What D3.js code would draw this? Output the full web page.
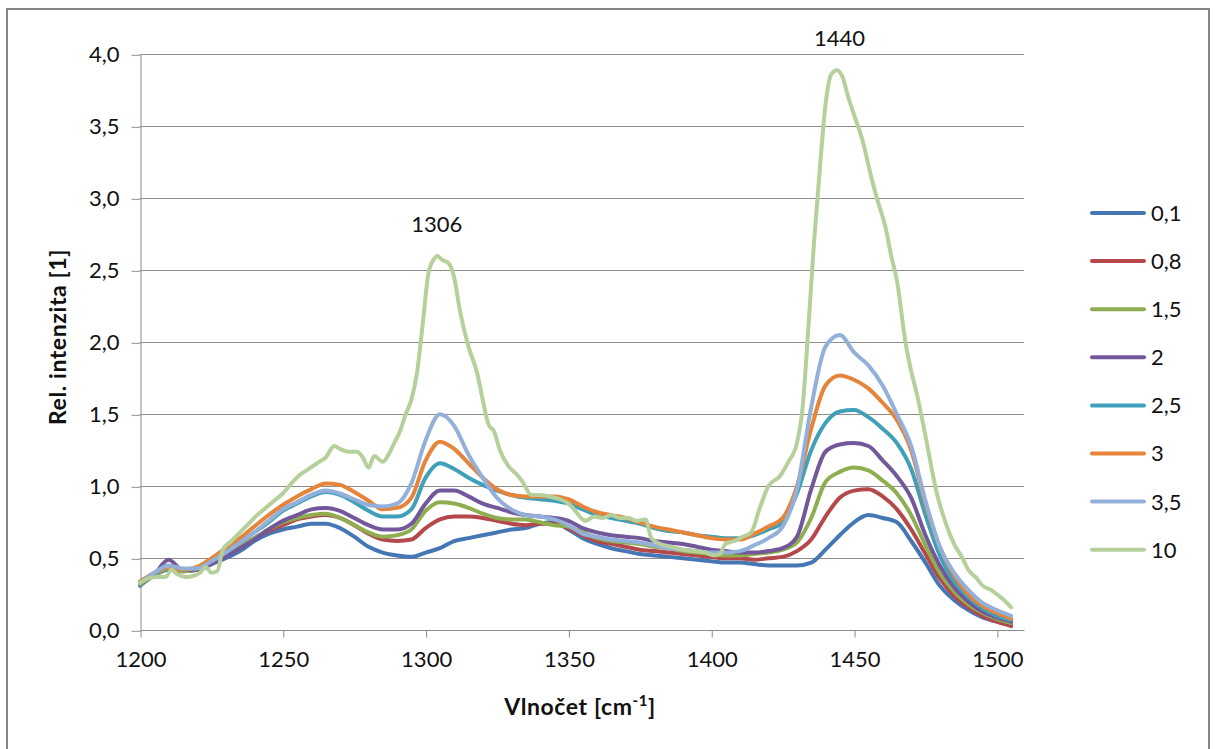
<!DOCTYPE html>
<html lang="cs">
<head>
<meta charset="UTF-8">
<script src="https://d3js.org/d3.v7.min.js"></script>
<style>
  body { margin: 0; background: #fff; }
  svg text { font-family: Lato, "Open Sans", sans-serif; fill: #111; }
</style>
</head>
<body>
<svg id="chart" width="1217" height="749"></svg>
<script>
// shared wavenumber grid for the first seven series
var wavenumber = [1200,1205,1210,1215,1220,1225,1230,1235,1240,1245,
                  1250,1255,1260,1265,1270,1275,1280,1285,1290,1295,
                  1300,1305,1310,1315,1320,1325,1330,1335,1340,1345,
                  1350,1355,1360,1365,1370,1375,1380,1385,1390,1395,
                  1400,1405,1410,1415,1420,1425,1430,1435,1440,1445,
                  1450,1455,1460,1465,1470,1475,1480,1485,1490,1495,
                  1500,1505];

var s01 = [0.31,0.38,0.42,0.41,0.42,0.46,0.50,0.55,0.62,0.67,
           0.70,0.72,0.74,0.74,0.71,0.65,0.58,0.54,0.52,0.51,
           0.54,0.57,0.62,0.64,0.66,0.68,0.70,0.71,0.74,0.75,
           0.70,0.64,0.60,0.57,0.55,0.53,0.52,0.51,0.50,0.49,
           0.48,0.47,0.47,0.46,0.45,0.45,0.45,0.47,0.56,0.66,
           0.75,0.80,0.78,0.75,0.62,0.47,0.31,0.21,0.14,0.09,
           0.06,0.04];
var s08 = [0.32,0.38,0.43,0.41,0.42,0.47,0.52,0.58,0.64,0.69,
           0.73,0.77,0.79,0.80,0.78,0.73,0.67,0.63,0.62,0.63,
           0.71,0.77,0.79,0.79,0.78,0.76,0.74,0.73,0.74,0.74,
           0.71,0.66,0.62,0.60,0.58,0.56,0.55,0.54,0.53,0.52,
           0.51,0.50,0.50,0.49,0.50,0.51,0.55,0.63,0.79,0.92,
           0.97,0.98,0.93,0.84,0.70,0.53,0.36,0.24,0.16,0.10,
           0.06,0.03];
var s15 = [0.32,0.38,0.43,0.41,0.42,0.47,0.52,0.58,0.64,0.70,
           0.75,0.78,0.80,0.81,0.78,0.73,0.68,0.65,0.66,0.70,
           0.83,0.89,0.88,0.85,0.81,0.78,0.77,0.77,0.75,0.73,
           0.72,0.68,0.64,0.62,0.61,0.60,0.58,0.57,0.55,0.54,
           0.53,0.52,0.52,0.53,0.54,0.56,0.61,0.78,1.03,1.10,
           1.13,1.11,1.04,0.95,0.80,0.59,0.40,0.27,0.18,0.12,
           0.08,0.05];
var s2 = [0.33,0.39,0.49,0.42,0.42,0.46,0.51,0.57,0.63,0.70,
          0.76,0.80,0.84,0.85,0.83,0.78,0.73,0.70,0.70,0.74,
          0.88,0.97,0.97,0.93,0.88,0.85,0.82,0.80,0.79,0.78,
          0.76,0.71,0.68,0.66,0.65,0.64,0.62,0.61,0.60,0.58,
          0.56,0.55,0.54,0.54,0.55,0.57,0.65,0.98,1.24,1.29,
          1.30,1.28,1.18,1.07,0.92,0.66,0.45,0.30,0.20,0.13,
          0.09,0.06];
var s25 = [0.33,0.39,0.44,0.42,0.43,0.48,0.54,0.61,0.68,0.75,
           0.83,0.88,0.93,0.96,0.94,0.89,0.83,0.79,0.79,0.84,
           1.06,1.16,1.12,1.06,1.01,0.97,0.94,0.92,0.91,0.90,
           0.88,0.84,0.80,0.78,0.76,0.74,0.71,0.69,0.68,0.66,
           0.65,0.64,0.64,0.66,0.70,0.75,0.95,1.25,1.44,1.52,
           1.53,1.48,1.40,1.30,1.12,0.80,0.52,0.34,0.23,0.15,
           0.10,0.07];
var s3 = [0.34,0.40,0.44,0.42,0.44,0.50,0.57,0.64,0.72,0.80,
          0.87,0.93,0.98,1.02,1.01,0.96,0.90,0.84,0.85,0.92,
          1.18,1.31,1.26,1.16,1.06,0.98,0.94,0.93,0.93,0.93,
          0.91,0.86,0.82,0.80,0.78,0.75,0.72,0.70,0.68,0.66,
          0.64,0.63,0.63,0.67,0.72,0.78,1.00,1.40,1.70,1.77,
          1.74,1.68,1.58,1.46,1.25,0.88,0.58,0.38,0.25,0.17,
          0.12,0.08];
var s35 = [0.33,0.40,0.45,0.43,0.43,0.48,0.54,0.61,0.68,0.76,
           0.84,0.89,0.94,0.97,0.95,0.91,0.87,0.86,0.88,1.02,
           1.32,1.50,1.42,1.22,1.06,0.92,0.84,0.80,0.79,0.77,
           0.73,0.67,0.65,0.63,0.62,0.61,0.59,0.57,0.56,0.55,
           0.54,0.54,0.55,0.59,0.64,0.72,0.98,1.55,1.97,2.05,
           1.93,1.84,1.70,1.50,1.28,0.90,0.58,0.40,0.28,0.19,
           0.14,0.10];

// series "10" is noisier, so it has its own denser grid
var wavenumber10 = [1200,1203,1206,1209,1211,1213,1216,1219,1221,1223,1225,1227,1229,1232,1235,1238,
                    1241,1244,1247,1250,1253,1256,1259,1262,1265,1268,1270,1273,1276,1278,1280,1282,
                    1285,1287,1289,1291,1293,1295,1297,1299,1301,1303,1304,1306,1308,1310,1312,1315,
                    1318,1320,1322,1324,1326,1329,1332,1334,1337,1340,1343,1347,1350,1352,1354,1356,
                    1359,1362,1365,1368,1371,1374,1377,1379,1382,1386,1390,1394,1398,1401,1403,1405,
                    1408,1411,1414,1417,1420,1424,1427,1430,1432,1434,1436,1438,1440,1442,1444,1446,
                    1448,1450,1453,1456,1458,1461,1463,1465,1468,1470,1472,1475,1479,1482,1485,1488,
                    1490,1493,1495,1498,1500,1503,1505];
var s10 = [0.33,0.36,0.37,0.37,0.42,0.39,0.37,0.38,0.40,0.44,0.40,0.41,0.56,0.62,0.68,0.74,
           0.80,0.85,0.90,0.95,1.02,1.08,1.12,1.16,1.20,1.28,1.26,1.24,1.24,1.20,1.13,1.21,
           1.17,1.22,1.30,1.38,1.50,1.60,1.79,2.13,2.48,2.58,2.60,2.57,2.55,2.45,2.22,1.97,
           1.79,1.60,1.43,1.38,1.25,1.14,1.08,1.03,0.94,0.94,0.93,0.91,0.88,0.84,0.79,0.76,
           0.79,0.78,0.80,0.78,0.78,0.76,0.77,0.64,0.60,0.58,0.56,0.55,0.54,0.52,0.53,0.60,
           0.62,0.65,0.68,0.85,1.00,1.07,1.17,1.30,1.55,2.10,2.70,3.20,3.65,3.86,3.89,3.84,
           3.70,3.58,3.40,3.15,3.00,2.80,2.60,2.43,2.00,1.80,1.64,1.35,0.95,0.75,0.60,0.50,
           0.42,0.36,0.31,0.28,0.25,0.20,0.16];

var seriesNames = ["0,1", "0,8", "1,5", "2", "2,5", "3", "3,5", "10"];
var seriesColors = ["#4577b5", "#b4484a", "#8fae50", "#72579a", "#41a0b9", "#e6843a", "#93b0da", "#b5d09a"];
var yTicks = [0, 0.5, 1, 1.5, 2, 2.5, 3, 3.5, 4];
var xTicks = [1200, 1250, 1300, 1350, 1400, 1450, 1500];
// peak labels: wavenumber, intensity of the peak, horizontal nudge in px
var peakLabels = [{x: 1306, y: 2.6, dx: -6, text: "1306"}, {x: 1440, y: 3.89, dx: 14, text: "1440"}];

var seriesX = [wavenumber, wavenumber, wavenumber, wavenumber, wavenumber, wavenumber, wavenumber, wavenumber10];
var seriesY = [s01, s08, s15, s2, s25, s3, s35, s10];

var svg = d3.select("#chart");
var plotL = 140, plotR = 1024, plotT = 54.3, plotB = 630.3;

var x = d3.scaleLinear().domain([1200, 1509.5]).range([plotL, plotR]);
var y = d3.scaleLinear().domain([0, 4]).range([plotB, plotT]);
var gridCol = "#8c8c8c";

// outer frame
svg.append("rect")
    .attr("x", 7).attr("y", 9).attr("width", 1202).attr("height", 760)
    .attr("fill", "none").attr("stroke", "#868686").attr("stroke-width", 2);

// horizontal gridlines
svg.append("g").selectAll("line").data(yTicks.slice(1)).enter()
    .append("line")
    .attr("x1", plotL).attr("x2", plotR)
    .attr("y1", function(d){ return Math.round(y(d)) + 0.5; })
    .attr("y2", function(d){ return Math.round(y(d)) + 0.5; })
    .attr("stroke", gridCol).attr("stroke-width", 1);

// y axis
var yAxis = d3.axisLeft(y).tickValues(yTicks).tickSizeInner(9).tickSizeOuter(0).tickPadding(12)
    .tickFormat(function(d){ return d3.format(".1f")(d).replace(".", ","); });
var gy = svg.append("g").attr("transform", "translate(" + (plotL + 0.5) + ",0.5)").call(yAxis);
gy.selectAll("line, path").attr("stroke", gridCol);
gy.selectAll("text").style("font-size", "22px").style("font-family", "Lato, sans-serif").attr("fill", "#111");

// x axis
var xAxis = d3.axisBottom(x).tickValues(xTicks).tickSizeInner(7).tickSizeOuter(0).tickPadding(14)
    .tickFormat(d3.format("d"));
var gx = svg.append("g").attr("transform", "translate(0.5," + (Math.round(plotB) + 0.5) + ")").call(xAxis);
gx.selectAll("line, path").attr("stroke", gridCol);
gx.select("path").attr("d", "M" + plotL + ",0H" + plotR);
gx.selectAll("text").style("font-size", "22px").style("font-family", "Lato, sans-serif").attr("fill", "#111");

// series lines
var line = d3.line().curve(d3.curveMonotoneX);
var lines = svg.append("g").attr("fill", "none").attr("stroke-width", 4)
    .attr("stroke-linejoin", "round").attr("stroke-linecap", "round");
seriesY.forEach(function(vals, i) {
    var pts = vals.map(function(v, j){ return [x(seriesX[i][j]), y(v)]; });
    lines.append("path").attr("d", line(pts)).attr("stroke", seriesColors[i]);
});

// peak annotations
svg.append("g").selectAll("text").data(peakLabels).enter()
    .append("text")
    .attr("x", function(d){ return x(d.x) + d.dx; })
    .attr("y", function(d){ return y(d.y) - 24; })
    .attr("text-anchor", "middle")
    .style("font-size", "22px")
    .text(function(d){ return d.text; });

// axis titles
svg.append("text")
    .attr("transform", "translate(66,337) rotate(-90)")
    .attr("text-anchor", "middle")
    .style("font-size", "23px").style("font-weight", "bold").style("letter-spacing", "0.6px")
    .text("Rel. intenzita [1]");

var xt = svg.append("text")
    .attr("x", 580).attr("y", 715)
    .attr("text-anchor", "middle")
    .style("font-size", "23px").style("font-weight", "bold").style("letter-spacing", "0.6px");
xt.append("tspan").text("Vlnočet [cm");
xt.append("tspan").attr("dy", -9).style("font-size", "15px").text("-1");
xt.append("tspan").attr("dy", 9).text("]");

// legend
var legend = svg.append("g").selectAll("g").data(seriesNames).enter()
    .append("g")
    .attr("transform", function(d, i){ return "translate(1090," + (213 + i * 48.1) + ")"; });
legend.append("line")
    .attr("x1", 2).attr("x2", 54)
    .attr("stroke", function(d, i){ return seriesColors[i]; })
    .attr("stroke-width", 4).attr("stroke-linecap", "round");
legend.append("text")
    .attr("x", 61).attr("dy", "0.36em")
    .style("font-size", "22px")
    .text(function(d){ return d; });
</script>
</body>
</html>
